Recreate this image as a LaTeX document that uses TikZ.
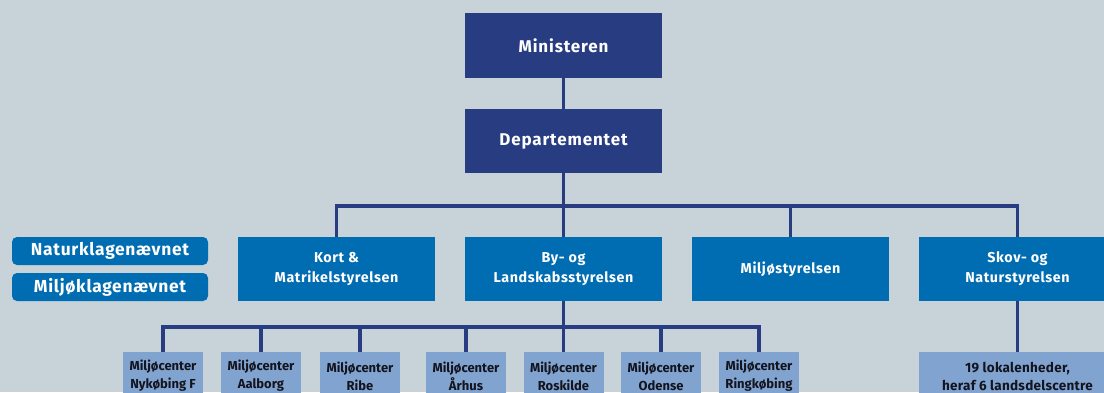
\documentclass[tikz,border=0pt]{standalone}
\usepackage{fontspec}
\setmainfont{Fira Sans}
\definecolor{bg}{RGB}{200,211,217}
\definecolor{navy}{RGB}{40,60,130}
\definecolor{midblue}{RGB}{0,108,178}
\definecolor{lightblue}{RGB}{128,163,208}
\definecolor{darktext}{RGB}{20,20,30}
\tikzset{
  topbox/.style={fill=navy, text=white, minimum width=197pt, minimum height=64pt, inner sep=0pt, align=center, font=\fontsize{17}{20}\selectfont\bfseries\addfontfeature{LetterSpace=5}},
  agency/.style={fill=midblue, text=white, minimum width=197pt, minimum height=64pt, inner sep=0pt, align=center, font=\fontsize{14.3}{20}\selectfont\bfseries\addfontfeature{LetterSpace=4}},
  pill/.style={fill=midblue, text=white, rounded corners=5pt, minimum width=196pt, minimum height=28pt, inner sep=0pt, align=center, font=\fontsize{17.4}{20}\selectfont\bfseries\addfontfeature{LetterSpace=4}},
  center/.style={fill=lightblue, text=darktext, minimum width=80pt, minimum height=48pt, inner sep=0pt, align=center, font=\fontsize{13}{18}\selectfont\bfseries},
  widecenter/.style={center, minimum width=197pt, font=\fontsize{13.5}{18}\selectfont\bfseries\addfontfeature{LetterSpace=2}},
  conn/.style={draw=navy, line width=3.5pt}
}
\begin{document}
\begin{tikzpicture}[x=1pt,y=-1pt]
\fill[bg] (0,0) rectangle (1104,392);
\useasboundingbox (0,0) rectangle (1104,392);
\clip (0,0) rectangle (1104,392);

\node[topbox, minimum height=65pt] (min) at (563.5,45.5) {Ministeren};
\node[topbox] (dep) at (563.5,141) {Departementet};

\node[agency] (kort) at (336.5,269) {Kort \&\\Matrikelstyrelsen};
\node[agency] (by) at (563.5,269) {By- og\\Landskabsstyrelsen};
\node[agency] (mst) at (790.5,269) {Miljøstyrelsen};
\node[agency] (skov) at (1017.5,269) {Skov- og\\Naturstyrelsen};

\node[pill] (nkn) at (110,251) {Naturklagenævnet};
\node[pill] (mkn) at (110,287) {Miljøklagenævnet};

\node[center] (c1) at (163,376) {Miljøcenter\\Nykøbing F};
\node[center] (c2) at (261,376) {Miljøcenter\\Aalborg};
\node[center] (c3) at (360,376) {Miljøcenter\\Ribe};
\node[center] (c4) at (466,376) {Miljøcenter\\Århus};
\node[center] (c5) at (563.5,376) {Miljøcenter\\Roskilde};
\node[center] (c6) at (661,376) {Miljøcenter\\Odense};
\node[center] (c7) at (759,376) {Miljøcenter\\Ringkøbing};
\node[widecenter] (lok) at (1017.5,376) {19 lokalenheder,\\heraf 6 landsdelscentre};

\coordinate (bar1) at (563.5,206);
\coordinate (bar2) at (563.5,327);

\draw[conn] (min) -- (dep);
\draw[conn] (dep) -- (bar1);
\draw[conn] (kort.north) -- (kort.north |- bar1) -- (skov.north |- bar1) -- (skov.north);
\draw[conn] (by.north) -- (by.north |- bar1);
\draw[conn] (mst.north) -- (mst.north |- bar1);

\draw[conn] (by.south) -- (bar2);
\draw[conn] (c1.north) -- (c1.north |- bar2) -- (c7.north |- bar2) -- (c7.north);
\foreach \n in {c2,c3,c4,c5,c6} {
  \draw[conn] (\n.north) -- (\n.north |- bar2);
}
\draw[conn] (skov.south) -- (lok.north);
\end{tikzpicture}
\end{document}
